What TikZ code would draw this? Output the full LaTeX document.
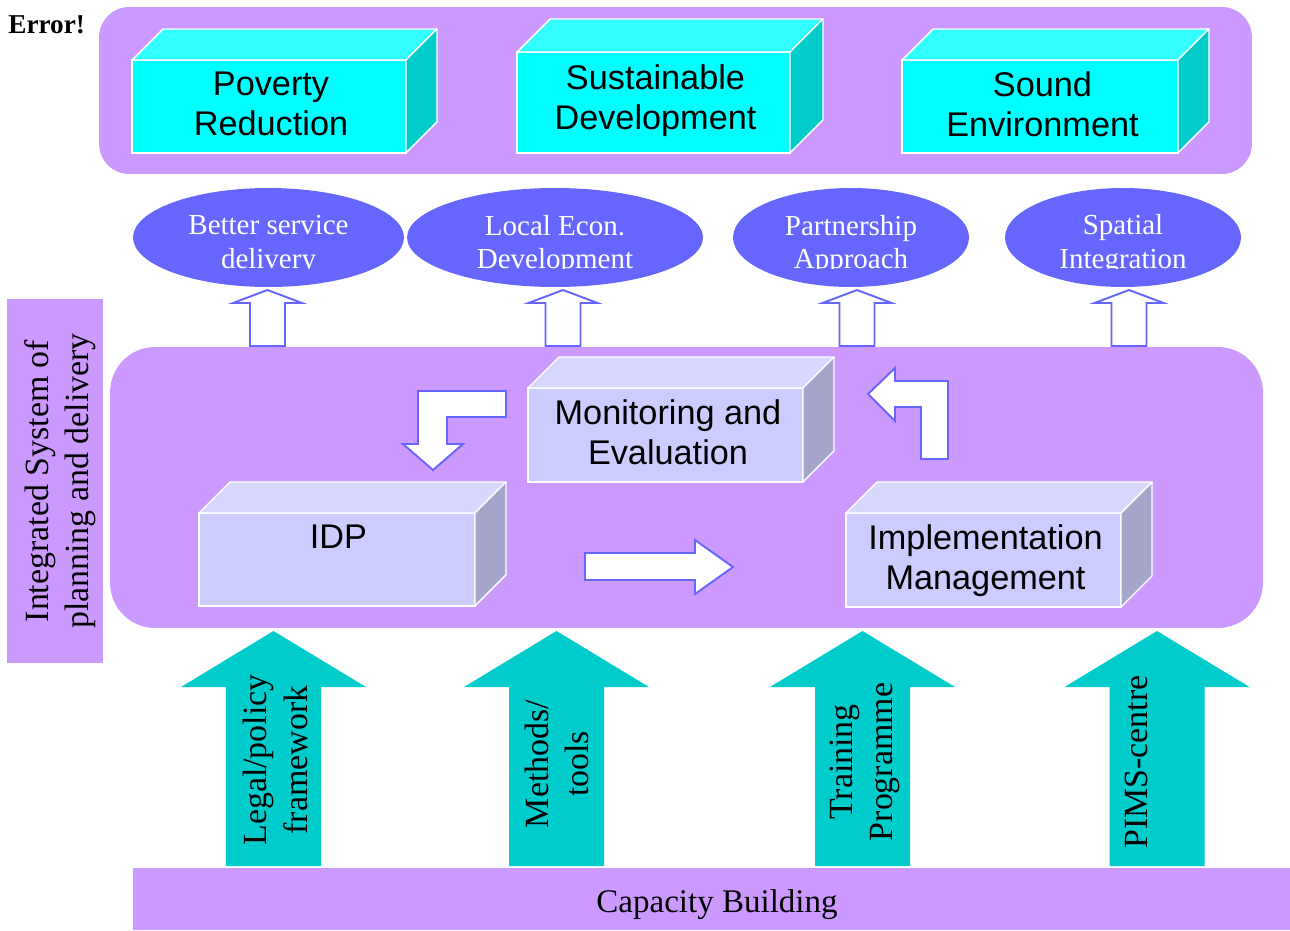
\documentclass[tikz,border=0pt]{standalone}
\usepackage{fontspec}
\setmainfont{Liberation Serif}
\newfontfamily\boxfont{Liberation Sans}
\usetikzlibrary{shapes.geometric}

\definecolor{panel}{HTML}{CC99FF}
\definecolor{cyanfront}{HTML}{00FFFF}
\definecolor{cyantop}{HTML}{33FFFF}
\definecolor{cyanside}{HTML}{00CCCC}
\definecolor{lavfront}{HTML}{CCCCFF}
\definecolor{lavtop}{HTML}{D7D7FF}
\definecolor{lavside}{HTML}{A5A5CC}
\definecolor{oval}{HTML}{6666FF}
\definecolor{tealblock}{HTML}{00CCCC}

% 3-D box: name, centre x, centre y, width, height, depth, front, top, side colours
\newcommand\cubebox[9]{%
  \node[cubeface, fill=#7, minimum width=#4, minimum height=#5] (#1) at (#2,#3) {};
  \filldraw[cubeedge, fill=#8] (#1.north west) -- ++(#6,-#6)
     -- ([shift={(#6,-#6)}]#1.north east) -- (#1.north east) -- cycle;
  \filldraw[cubeedge, fill=#9] (#1.north east) -- ++(#6,-#6)
     -- ([shift={(#6,-#6)}]#1.south east) -- (#1.south east) -- cycle;
}
% small hollow up arrow under a goal ellipse
\newcommand\hollowup[1]{%
  \filldraw[hollow] (#1-17.5,346) -- (#1-17.5,303) -- (#1-34.5,303) -- (#1,290)
    -- (#1+34.5,303) -- (#1+17.5,303) -- (#1+17.5,346) -- cycle;
}
% large teal up arrow standing on the capacity bar
\newcommand\tealup[1]{%
  \fill[tealblock] (#1-47.5,866) -- (#1-47.5,687) -- (#1-92.5,687) -- (#1,631)
    -- (#1+92.5,687) -- (#1+47.5,687) -- (#1+47.5,866) -- cycle;
}

\begin{document}
\begin{tikzpicture}[x=0.02cm,y=-0.02cm,
  panelbox/.style={fill=panel, draw=none, inner sep=0, outer sep=0},
  cubeface/.style={draw=white, line width=0.8pt, inner sep=0, outer sep=0},
  cubeedge/.style={draw=white, line width=0.8pt, line join=round},
  boxlabel/.style={font=\boxfont\fontsize{19.5}{22.7}\selectfont, align=center, inner sep=0},
  goal/.style={ellipse, fill=oval, draw=none, inner sep=0},
  goallabel/.style={font=\fontsize{16.5}{19.3}\selectfont, text=white, align=center, inner sep=0},
  hollow/.style={fill=white, draw=oval, line width=1.1pt, line join=miter},
  sidelabel/.style={font=\fontsize{19.3}{23}\selectfont, align=center, rotate=90, inner sep=0},
]
\useasboundingbox (0,0) rectangle (1290,930);

% background panels
\node[panelbox, rounded corners=0.6cm, minimum width=23.06cm, minimum height=3.34cm] (goals) at (675.5,90.5) {};
\node[panelbox, rounded corners=0.9cm, minimum width=23.06cm, minimum height=5.62cm] (cycle) at (686.5,487.5) {};
\node[panelbox, minimum width=1.92cm, minimum height=7.28cm] (sysbox) at (55,481) {};
\node[panelbox, minimum width=23.14cm, minimum height=1.24cm] (capbar) at (711.5,899) {};

\node[font=\bfseries\fontsize{15.5}{18}\selectfont, anchor=base west, inner sep=0] (err) at (8,33) {Error!};

% goal boxes
\cubebox{pov}{269}{106.5}{5.48cm}{1.86cm}{31}{cyanfront}{cyantop}{cyanside}
\cubebox{sus}{653.5}{102.5}{5.46cm}{2.02cm}{33}{cyanfront}{cyantop}{cyanside}
\cubebox{snd}{1040}{106.5}{5.52cm}{1.86cm}{31}{cyanfront}{cyantop}{cyanside}
\node[boxlabel] (povtext) at (271,104.3) {Poverty\\Reduction};
\node[boxlabel] (sustext) at (655.5,100.7) {Sustainable\\Development};
\node[boxlabel] (sndtext) at (1042.5,104) {Sound\\Environment};

% outcome ellipses
\node[goal, minimum width=5.42cm, minimum height=1.98cm] (bsd) at (268.5,237.5) {};
\node[goal, minimum width=5.92cm, minimum height=1.98cm] (led) at (555,237.5) {};
\node[goal, minimum width=4.72cm, minimum height=1.98cm] (pa) at (851,237.5) {};
\node[goal, minimum width=4.72cm, minimum height=1.98cm] (si) at (1123,237.5) {};
\begin{scope}
  \clip (120,180) rectangle (1260,268);
  \node[goallabel] (bsdtext) at (268.5,245) {Better service\\delivery};
  \node[goallabel] (ledtext) at (555,245) {Local Econ.\\Development};
  \node[goallabel] (patext) at (851,245) {Partnership\\Approach};
  \node[goallabel] (sitext) at (1123,245) {Spatial\\Integration};
\end{scope}

\hollowup{267.5}
\hollowup{563}
\hollowup{857}
\hollowup{1129}

% planning cycle
\node[sidelabel] (systext) at (60,481) {Integrated System of\\planning and delivery};

\cubebox{mon}{665.5}{435}{5.5cm}{1.88cm}{31}{lavfront}{lavtop}{lavside}
\cubebox{idp}{337}{559.5}{5.52cm}{1.86cm}{31}{lavfront}{lavtop}{lavside}
\cubebox{imp}{983.5}{560}{5.5cm}{1.88cm}{31}{lavfront}{lavtop}{lavside}
\node[boxlabel] (montext) at (668,432) {Monitoring and\\Evaluation};
\node[boxlabel] (idptext) at (338.5,537) {IDP};
\node[boxlabel] (imptext) at (985.5,560.5) {Implementation\\Management};

\filldraw[hollow] (506,391) -- (418,391) -- (418,444) -- (403,444) -- (433,470)
  -- (463,444) -- (447,444) -- (447,417) -- (506,417) -- cycle;
\filldraw[hollow] (585,553) -- (695,553) -- (695,540) -- (733,567) -- (695,594)
  -- (695,580) -- (585,580) -- cycle;
\filldraw[hollow] (921,459) -- (948,459) -- (948,381) -- (895,381) -- (895,368)
  -- (868,394) -- (895,421) -- (895,407) -- (921,407) -- cycle;

% supporting instruments
\tealup{273.5}
\tealup{556.5}
\tealup{862.5}
\tealup{1157}
\node[sidelabel] (legal) at (275.5,760) {Legal/policy\\framework};
\node[sidelabel] (methods) at (557,764) {Methods/\\tools};
\node[sidelabel] (training) at (865,762) {Training\\Programme};
\node[sidelabel] (pims) at (1136,762) {PIMS-centre};

\node[font=\fontsize{18.8}{22}\selectfont, anchor=base, inner sep=0] (captext) at (717,912) {Capacity Building};
\end{tikzpicture}
\end{document}
